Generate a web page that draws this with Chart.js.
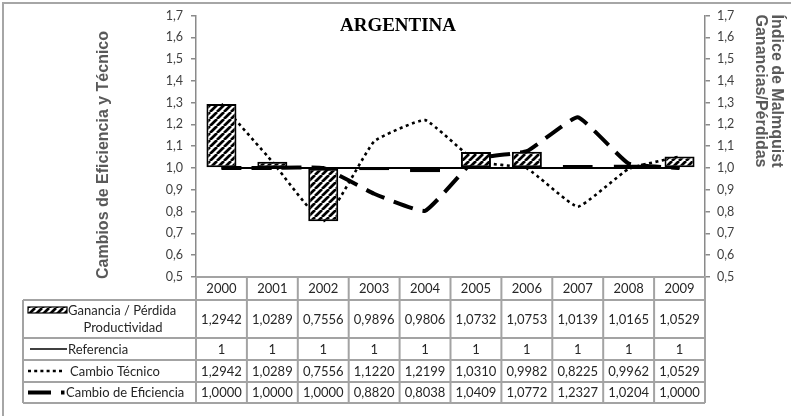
<!DOCTYPE html>
<html>
<head>
<meta charset="utf-8">
<script src="https://cdn.jsdelivr.net/npm/chart.js@4.4.1/dist/chart.umd.min.js"></script>
<style>
  html, body { margin: 0; padding: 0; background: #ffffff; }
  #wrap { width: 791px; height: 416px; position: relative; }
</style>
</head>
<body>
<div id="wrap"><canvas id="c"></canvas></div>
<script>
// Argentina: Malmquist index and its components, 2000-2009
const years = ['2000', '2001', '2002', '2003', '2004', '2005', '2006', '2007', '2008', '2009'];
const productividad = [1.2942, 1.0289, 0.7556, 0.9896, 0.9806, 1.0732, 1.0753, 1.0139, 1.0165, 1.0529];
const referencia = [1, 1, 1, 1, 1, 1, 1, 1, 1, 1];
const cambioTecnico = [1.2942, 1.0289, 0.7556, 1.1220, 1.2199, 1.0310, 0.9982, 0.8225, 0.9962, 1.0529];
const cambioEficiencia = [1.0000, 1.0000, 1.0000, 0.8820, 0.8038, 1.0409, 1.0772, 1.2327, 1.0204, 1.0000];
const seriesNames = ['Ganancia / Pérdida', 'Referencia', 'Cambio Técnico', 'Cambio de Eficiencia'];
const axisMin = 0.5, axisMax = 1.7, axisStep = 0.1;

const TEXT_FONT = 'Lato, "Open Sans", "Liberation Sans", sans-serif';
const GRID_GRAY = '#a3a3a3';
const AXIS_GRAY = '#8a8a8a';

const comma = (v, d) => v.toFixed(d).replace('.', ',');

// diagonal hatch used by the productivity bars
function makeHatch() {
  const s = 7;
  const c = document.createElement('canvas');
  c.width = s; c.height = s;
  const g = c.getContext('2d');
  g.fillStyle = '#ffffff';
  g.fillRect(0, 0, s, s);
  g.strokeStyle = '#000000';
  g.lineWidth = 2.7;
  g.beginPath();
  for (const o of [-s, 0, s]) { g.moveTo(o, s); g.lineTo(o + s, 0); }
  g.stroke();
  return g.createPattern(c, 'repeat');
}
const hatch = makeHatch();

// titles, frame and the data table under the plot
const decorations = {
  id: 'decorations',
  afterDraw(chart) {
    const { ctx, chartArea: a } = chart;
    const xs = chart.scales.x;
    ctx.save();

    // frame
    ctx.strokeStyle = '#a6a6a6';
    ctx.lineWidth = 2;
    ctx.beginPath();
    ctx.moveTo(3, 416); ctx.lineTo(3, 3); ctx.lineTo(791, 3);
    ctx.stroke();

    // chart title
    ctx.fillStyle = '#000000';
    ctx.font = 'bold 19px "Liberation Serif", "Times New Roman", serif';
    ctx.textAlign = 'center';
    ctx.textBaseline = 'middle';
    ctx.fillText('ARGENTINA', 398, 26);

    // axis titles
    ctx.fillStyle = '#595959';
    ctx.font = 'bold 16px "Liberation Sans", Arial, sans-serif';
    ctx.save();
    ctx.translate(104, 155);
    ctx.rotate(-Math.PI / 2);
    ctx.fillText('Cambios de Eficiencia y Técnico', 0, 0);
    ctx.restore();
    ctx.save();
    ctx.translate(776, 91);
    ctx.rotate(Math.PI / 2);
    ctx.fillText('Índice de Malmquist', 0, 0);
    ctx.fillText('Ganancias/Pérdidas', 0, 16);
    ctx.restore();

    // data table
    const tableLeft = 23;
    const rowH = [23, 38, 22, 22, 21];
    const rowY = [a.bottom];
    rowH.forEach(h => rowY.push(rowY[rowY.length - 1] + h));
    const colW = (a.right - a.left) / years.length;

    ctx.strokeStyle = GRID_GRAY;
    ctx.lineWidth = 2;
    ctx.beginPath();
    ctx.moveTo(a.left, rowY[0]); ctx.lineTo(a.right, rowY[0]);
    for (let r = 1; r < rowY.length; r++) {
      ctx.moveTo(tableLeft, rowY[r]); ctx.lineTo(a.right, rowY[r]);
    }
    ctx.moveTo(tableLeft, rowY[1]); ctx.lineTo(tableLeft, rowY[5]);
    for (let i = 0; i <= years.length; i++) {
      const x = a.left + i * colW;
      ctx.moveTo(x, rowY[0]); ctx.lineTo(x, rowY[5]);
    }
    ctx.stroke();

    const rowsText = [
      years,
      productividad.map(v => comma(v, 4)),
      referencia.map(v => String(v)),
      cambioTecnico.map(v => comma(v, 4)),
      cambioEficiencia.map(v => comma(v, 4))
    ];
    ctx.fillStyle = '#262626';
    ctx.font = '13px ' + TEXT_FONT;
    ctx.textAlign = 'center';
    ctx.textBaseline = 'middle';
    rowsText.forEach((vals, r) => {
      const cy = (rowY[r] + rowY[r + 1]) / 2 + 0.5;
      vals.forEach((t, i) => ctx.fillText(t, xs.getPixelForValue(i), cy));
    });

    // legend keys in the first column
    const cy1 = (rowY[1] + rowY[2]) / 2;
    ctx.fillStyle = hatch;
    ctx.fillRect(28, cy1 - 12, 39, 6);
    ctx.strokeStyle = '#000';
    ctx.lineWidth = 1.2;
    ctx.strokeRect(28, cy1 - 12, 39, 6);

    ctx.fillStyle = '#262626';
    ctx.textAlign = 'left';
    ctx.fillText(seriesNames[0], 68, cy1 - 8);
    ctx.textAlign = 'center';
    ctx.fillText('Productividad', 123, cy1 + 9);

    const cy2 = (rowY[2] + rowY[3]) / 2;
    ctx.strokeStyle = '#000';
    ctx.lineWidth = 1.6;
    ctx.beginPath(); ctx.moveTo(30, cy2); ctx.lineTo(67, cy2); ctx.stroke();
    ctx.textAlign = 'left';
    ctx.fillText(seriesNames[1], 68, cy2 + 0.5);

    const cy3 = (rowY[3] + rowY[4]) / 2;
    ctx.lineWidth = 2.5;
    ctx.setLineDash([3, 3.2]);
    ctx.beginPath(); ctx.moveTo(28, cy3); ctx.lineTo(65, cy3); ctx.stroke();
    ctx.setLineDash([]);
    ctx.fillText(seriesNames[2], 70, cy3 + 0.5);

    const cy4 = (rowY[4] + rowY[5]) / 2;
    ctx.lineWidth = 4;
    ctx.beginPath();
    ctx.moveTo(28, cy4); ctx.lineTo(51, cy4);
    ctx.moveTo(61, cy4); ctx.lineTo(64.5, cy4);
    ctx.stroke();
    ctx.fillText(seriesNames[3], 66, cy4 + 0.5);

    ctx.restore();
  }
};

const yScaleBase = {
  min: axisMin,
  max: axisMax,
  grid: { drawOnChartArea: false, drawTicks: true, tickLength: 5, color: AXIS_GRAY, lineWidth: 1.5 },
  border: { display: true, color: AXIS_GRAY, width: 1.5 },
  ticks: {
    stepSize: axisStep,
    color: '#404040',
    font: { family: TEXT_FONT, size: 12.5 },
    callback: v => comma(v, 1)
  }
};

new Chart(document.getElementById('c'), {
  type: 'bar',
  data: {
    labels: years,
    datasets: [
      {
        type: 'bar',
        label: seriesNames[0] + ' Productividad',
        data: productividad,
        base: 1,
        yAxisID: 'y2',
        backgroundColor: hatch,
        borderColor: '#000000',
        borderWidth: 2,
        borderSkipped: false,
        barPercentage: 0.59,
        categoryPercentage: 1,
        order: 0
      },
      {
        type: 'line',
        label: seriesNames[1],
        data: referencia,
        yAxisID: 'y',
        borderColor: '#000000',
        borderWidth: 2,
        pointRadius: 0,
        tension: 0,
        order: 3
      },
      {
        type: 'line',
        label: seriesNames[2],
        data: cambioTecnico,
        yAxisID: 'y',
        borderColor: '#000000',
        borderWidth: 2.6,
        borderDash: [3, 3.5],
        pointRadius: 0,
        tension: 0.12,
        order: 2
      },
      {
        type: 'line',
        label: seriesNames[3],
        data: cambioEficiencia,
        yAxisID: 'y',
        borderColor: '#000000',
        borderWidth: 4,
        borderDash: [20, 10],
        pointRadius: 0,
        tension: 0.12,
        order: 1
      }
    ]
  },
  options: {
    responsive: true,
    maintainAspectRatio: false,
    animation: false,
    layout: { padding: { top: 14, bottom: 139, left: 0, right: 0 } },
    plugins: { legend: { display: false }, tooltip: { enabled: false } },
    scales: {
      x: { display: false, offset: true },
      y: Object.assign({}, yScaleBase, {
        position: 'left',
        ticks: Object.assign({}, yScaleBase.ticks, { padding: 8 }),
        afterFit: s => { s.width = 196; }
      }),
      y2: Object.assign({}, yScaleBase, {
        position: 'right',
        ticks: Object.assign({}, yScaleBase.ticks, { padding: 7 }),
        afterFit: s => { s.width = 86; }
      })
    }
  },
  plugins: [decorations]
});
</script>
</body>
</html>
